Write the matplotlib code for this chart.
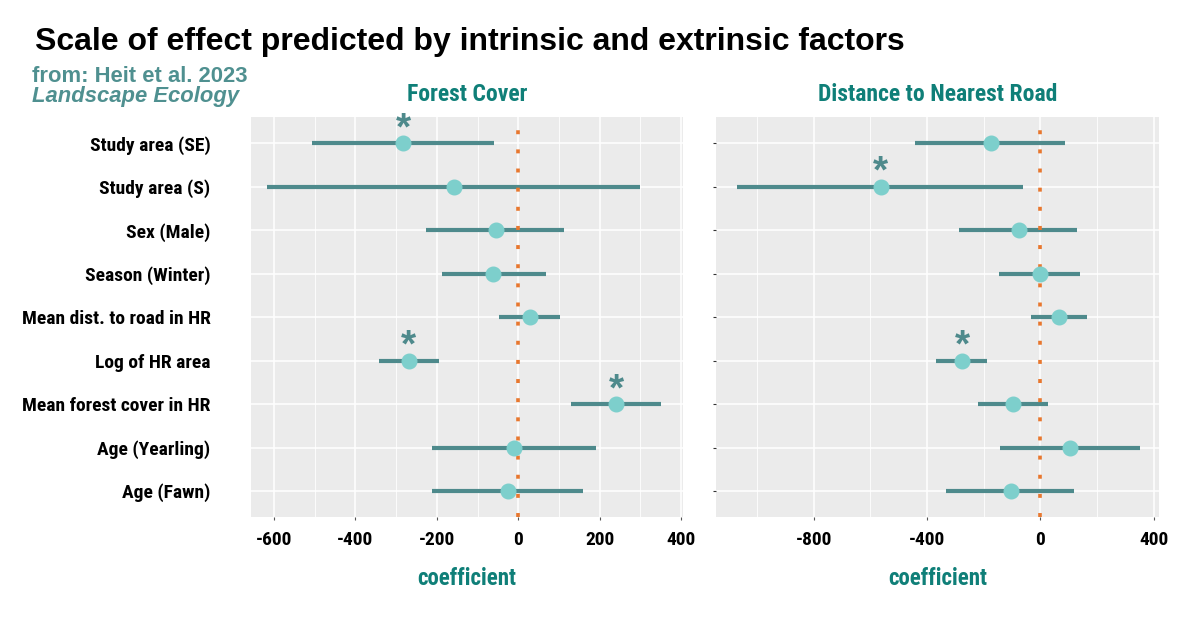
import matplotlib
matplotlib.use("Agg")
import matplotlib.pyplot as plt
import numpy as np

# Data (top row first)
terms = ["Study area (SE)", "Study area (S)", "Sex (Male)", "Season (Winter)",
         "Mean dist. to road in HR", "Log of HR area", "Mean forest cover in HR",
         "Age (Yearling)", "Age (Fawn)"]

forest_est = [-283, -158, -56, -61, 29, -269, 241, -11, -25]
forest_lo = [-507, -617, -226, -187, -48, -342, 130, -211, -211]
forest_hi = [-60, 300, 111, 67, 103, -196, 351, 192, 160]
forest_sig = [True, False, False, False, False, True, True, False, False]

road_est = [-175, -563, -76, -2, 66, -275, -98, 106, -105]
road_lo = [-441, -1071, -288, -146, -34, -369, -220, -142, -332]
road_hi = [86, -61, 129, 139, 163, -187, 27, 351, 118]
road_sig = [False, True, False, False, False, True, False, False, False]

forest_ticks = [-600, -400, -200, 0, 200, 400]
road_ticks = [-800, -400, 0, 400]

LINE_C = "#4e8a8c"
PT_C = "#7dcfcc"
ORANGE = "#e8772e"
TEAL = "#0f7f78"
NARROW = ["Roboto Condensed", "Liberation Sans", "DejaVu Sans"]
WIDE = ["Liberation Sans", "DejaVu Sans"]

fig = plt.figure(figsize=(12, 6.17), dpi=100)
ax1 = fig.add_axes([0.209, 0.162, 0.360, 0.648])
ax2 = fig.add_axes([0.597, 0.162, 0.369, 0.648])


def panel(ax, est, lo, hi, sig, ticks, xlim, title):
    y = np.arange(len(terms))
    ax.set_facecolor("#ebebeb")
    ax.set_xticks(ticks)
    step = ticks[1] - ticks[0]
    minor = np.arange(ticks[0] - step / 2, ticks[-1] + step, step)
    ax.set_xticks(minor, minor=True)
    ax.set_xlim(*xlim)
    ax.set_ylim(len(terms) - 0.4, -0.6)
    ax.grid(which="major", color="white", lw=1.1)
    ax.grid(which="minor", color="white", lw=0.6)
    ax.tick_params(axis="x", which="minor", length=0)
    ax.set_axisbelow(True)
    for s in ax.spines.values():
        s.set_visible(False)
    ax.hlines(y, lo, hi, color=LINE_C, lw=3.0, zorder=3)
    ax.axvline(0, color=ORANGE, lw=2.6, linestyle=(0, (1.1, 4.2)), zorder=4)
    ax.plot(est, y, "o", color=PT_C, ms=10.5, zorder=5)
    for xi, yi, s in zip(est, y, sig):
        if s:
            ax.text(xi, yi - 0.09, "*", color=LINE_C, fontsize=28, fontweight="bold",
                    ha="center", va="baseline", family=WIDE, zorder=6)
    ax.set_xticklabels([str(t) for t in ticks], fontsize=14, fontweight="bold",
                       family=NARROW)
    ax.tick_params(axis="x", which="major", length=2, color="#555555", pad=8)
    ax.set_yticks(y)
    ax.set_xlabel("coefficient", fontsize=16.5, fontweight="bold", color=TEAL,
                  family=NARROW, labelpad=13)
    ax.set_title(title, fontsize=17, fontweight="bold", color=TEAL,
                 family=NARROW, pad=12)


panel(ax1, forest_est, forest_lo, forest_hi, forest_sig, forest_ticks,
      (-657, 404), "Forest Cover")
panel(ax2, road_est, road_lo, road_hi, road_sig, road_ticks,
      (-1143, 419), "Distance to Nearest Road")

ax1.set_yticklabels(terms, fontsize=14, fontweight="bold", family=NARROW)
ax1.tick_params(axis="y", length=0, pad=29)
ax2.set_yticklabels([])
ax2.tick_params(axis="y", length=2, color="#333333")

fig.text(0.029, 0.932, "Scale of effect predicted by intrinsic and extrinsic factors",
         fontsize=23, fontweight="bold", family=WIDE, va="center")
fig.text(0.027, 0.876, "from: Heit et al. 2023", fontsize=15.8, fontweight="bold",
         color="#4f9090", family=WIDE, va="center")
fig.text(0.027, 0.844, "Landscape Ecology", fontsize=15.8, fontweight="bold",
         style="italic", color="#4f9090", family=WIDE, va="center")

fig.savefig("out.png", dpi=100)
